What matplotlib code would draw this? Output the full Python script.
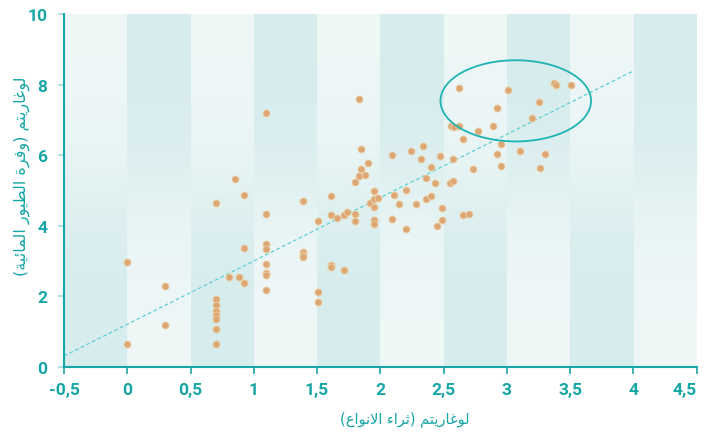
import matplotlib
matplotlib.use("Agg")
import matplotlib.pyplot as plt
from matplotlib.patches import Ellipse
import numpy as np

# data (log species richness vs log waterbird abundance)
x_vals = [0.0, 0.0, 0.30, 0.30,
          0.70, 0.70, 0.70, 0.70, 0.70, 0.70, 0.70, 0.70,
          0.80, 0.85, 0.88, 0.92, 0.92, 0.92,
          1.10, 1.10, 1.10, 1.10, 1.10, 1.10, 1.10, 1.10,
          1.39, 1.39, 1.39, 1.39,
          1.51, 1.51, 1.51,
          1.61, 1.61, 1.61, 1.61,
          1.66, 1.71, 1.71, 1.74,
          1.80, 1.80, 1.80,
          1.83, 1.83, 1.85, 1.85, 1.88, 1.90,
          1.92, 1.95, 1.95, 1.95, 1.95, 1.95, 1.98,
          2.09, 2.09, 2.11, 2.15, 2.20, 2.20,
          2.24, 2.28, 2.32, 2.34, 2.36, 2.36, 2.40, 2.40,
          2.43, 2.45, 2.47, 2.49, 2.49,
          2.55, 2.57, 2.56, 2.58, 2.57,
          2.62, 2.62, 2.65, 2.65, 2.70, 2.73, 2.77,
          2.89, 2.92, 2.92, 2.95, 2.95,
          3.01, 3.10, 3.20, 3.25, 3.26, 3.30,
          3.37, 3.39, 3.51]
y_vals = [2.97, 0.65, 2.29, 1.19,
          4.65, 1.93, 1.76, 1.59, 1.47, 1.36, 1.07, 0.65,
          2.55, 5.33, 2.55, 4.87, 3.37, 2.38,
          7.20, 4.33, 3.48, 3.34, 2.92, 2.66, 2.61, 2.18,
          4.70, 3.25, 3.18, 3.12,
          4.14, 2.12, 1.84,
          4.84, 4.31, 2.88, 2.83,
          4.22, 4.31, 2.75, 4.39,
          5.24, 4.33, 4.14,
          7.59, 5.41, 6.17, 5.60, 5.44, 5.78,
          4.65, 4.99, 4.76, 4.53, 4.16, 4.05, 4.78,
          6.00, 4.19, 4.87, 4.62, 5.01, 3.91,
          6.12, 4.62, 5.89, 6.26, 5.35, 4.76, 5.67, 4.84,
          5.21, 4.00, 5.98, 4.50, 4.16,
          5.21, 5.27, 6.83, 6.80, 5.89,
          7.90, 6.83, 6.46, 4.31, 4.33, 5.61, 6.68,
          6.83, 7.33, 6.03, 6.32, 5.69,
          7.85, 6.12, 7.05, 7.50, 5.64, 6.03,
          8.05, 7.99, 7.99]

fit_slope = 1.795
fit_intercept = 1.21
fit_x = [-0.5, 4.0]

xticks = [-0.5, 0, 0.5, 1, 1.5, 2, 2.5, 3, 3.5, 4, 4.5]
xtick_labels = ["-0,5", "0", "0,5", "1", "1,5", "2", "2,5", "3", "3,5", "4", "4,5"]
yticks = [0, 2, 4, 6, 8, 10]

xlabel_text = "لوغاريتم (ثراء الانواع)"
ylabel_text = "لوغاريتم (وفرة الطيور المائية)"


# --- tiny arabic shaper (matplotlib has no complex text layout) ---
FORMS = {  # isolated, final, initial, medial
    'ء': ('\uFE80', None, None, None),
    'ا': ('\uFE8D', '\uFE8E', None, None),
    'ئ': ('\uFE89', '\uFE8A', '\uFE8B', '\uFE8C'),
    'ة': ('\uFE93', '\uFE94', None, None),
    'ت': ('\uFE95', '\uFE96', '\uFE97', '\uFE98'),
    'ث': ('\uFE99', '\uFE9A', '\uFE9B', '\uFE9C'),
    'ر': ('\uFEAD', '\uFEAE', None, None),
    'ط': ('\uFEC1', '\uFEC2', '\uFEC3', '\uFEC4'),
    'ع': ('\uFEC9', '\uFECA', '\uFECB', '\uFECC'),
    'غ': ('\uFECD', '\uFECE', '\uFECF', '\uFED0'),
    'ف': ('\uFED1', '\uFED2', '\uFED3', '\uFED4'),
    'ل': ('\uFEDD', '\uFEDE', '\uFEDF', '\uFEE0'),
    'م': ('\uFEE1', '\uFEE2', '\uFEE3', '\uFEE4'),
    'ن': ('\uFEE5', '\uFEE6', '\uFEE7', '\uFEE8'),
    'و': ('\uFEED', '\uFEEE', None, None),
    'ي': ('\uFEF1', '\uFEF2', '\uFEF3', '\uFEF4'),
}
LAM_ALEF = ('\uFEFB', '\uFEFC')


def joins_left(c):
    return c in FORMS and FORMS[c][2] is not None


def shape(text):
    chars = list(text)
    out = []
    i = 0
    while i < len(chars):
        c = chars[i]
        prev = chars[i - 1] if i > 0 else None
        link_prev = prev is not None and joins_left(prev) and c in FORMS and FORMS[c][1] is not None
        if c == 'ل' and i + 1 < len(chars) and chars[i + 1] == 'ا':
            out.append(LAM_ALEF[1] if link_prev else LAM_ALEF[0])
            i += 2
            continue
        if c not in FORMS:
            out.append(c)
            i += 1
            continue
        nxt = chars[i + 1] if i + 1 < len(chars) else None
        link_next = joins_left(c) and nxt in FORMS
        iso, fin, ini, med = FORMS[c]
        if link_prev and link_next:
            out.append(med)
        elif link_prev:
            out.append(fin)
        elif link_next:
            out.append(ini)
        else:
            out.append(iso)
        i += 1
    vis = ''.join(out)[::-1]
    return vis.translate(str.maketrans('()', ')('))


teal = '#17a6a6'
dark = np.array([0.839, 0.925, 0.929])
light = np.array([0.937, 0.969, 0.969])

fig = plt.figure(figsize=(7.07, 4.35), dpi=100)
ax = fig.add_axes([0.0905, 0.154, 0.895, 0.8115])

# alternating column bands with a vertical gradient that flips
rows = 200
t = np.linspace(0, 1, rows)[:, None]  # 0 at top, 1 at bottom
f = 1 / (1 + np.exp(-(t - 0.5) * 9))
bg = np.zeros((rows, 10, 3))
for j in range(10):
    if j % 2 == 0:
        w = f
    else:
        w = 1 - f
    bg[:, j, :] = light + (dark - light) * w
ax.imshow(bg, extent=[-0.5, 4.5, 0, 10], aspect='auto', interpolation='nearest', zorder=0)

ax.scatter(x_vals, y_vals, s=26, color='#dca775', edgecolors='#ecd3a8', linewidths=0.6, zorder=3)

fx = np.array(fit_x)
ax.plot(fx, fit_slope * fx + fit_intercept, color='#5fcfd0', lw=0.9, ls=(0, (3, 2)), zorder=2)

ax.add_patch(Ellipse((3.07, 7.54), 1.19, 2.3, fill=False, ec='#1fb3b3', lw=1.3, zorder=4))

ax.set_xlim(-0.5, 4.5)
ax.set_ylim(0, 10)
for s in ['top', 'right']:
    ax.spines[s].set_visible(False)
for s in ['left', 'bottom']:
    ax.spines[s].set_color(teal)
    ax.spines[s].set_linewidth(1.5)

ax.set_xticks(xticks)
ax.set_xticklabels(xtick_labels)
ax.set_yticks(yticks)
ax.tick_params(axis='x', colors=teal, length=5, width=1.2, pad=6)
ax.tick_params(axis='y', colors='#9fd9d9', length=4, width=1.2, pad=8)
for lab in ax.get_xticklabels() + ax.get_yticklabels():
    lab.set_family('Roboto')
    lab.set_fontweight('bold')
    lab.set_fontsize(12.5)
    lab.set_color(teal)
# keep the last x label inside the canvas
ax.get_xticklabels()[-1].set_horizontalalignment('right')

fig.text(405 / 707, 1 - 419 / 435, shape(xlabel_text), color=teal, fontsize=10.5,
         family='DejaVu Sans', ha='center', va='center')
fig.text(22 / 707, 1 - 176 / 435, shape(ylabel_text), color=teal, fontsize=11.5,
         family='DejaVu Sans', ha='center', va='center', rotation=90)

fig.savefig('out.png', dpi=100)
